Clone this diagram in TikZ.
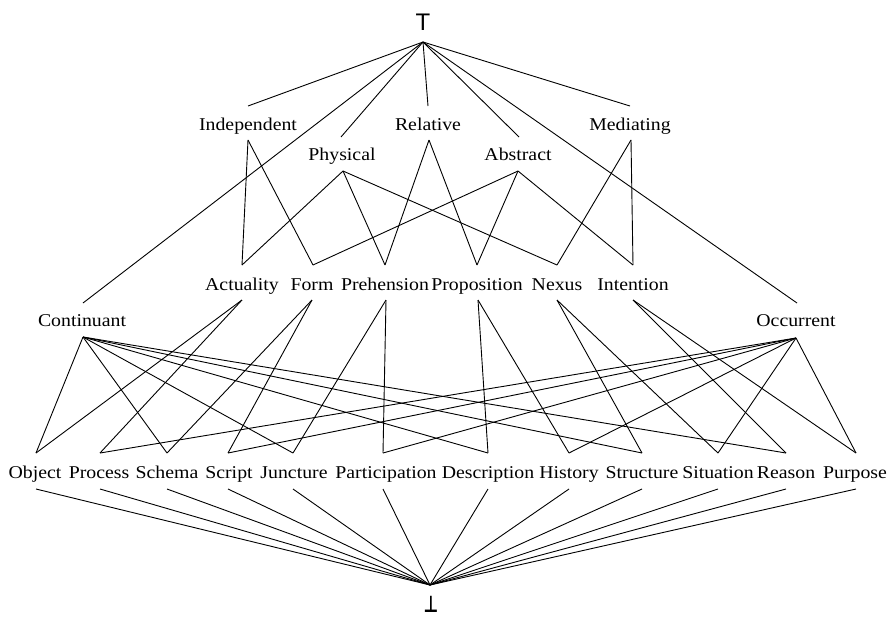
\documentclass[tikz,border=0pt]{standalone}
\usepackage{graphicx}
\usepackage{fontspec}
\setmainfont{Liberation Serif}[FakeStretch=1.1]
\newfontfamily\symfont{Liberation Sans}
\newfontfamily\djv{DejaVu Sans}
\begin{document}
\begin{tikzpicture}[x=1pt,y=-1pt,
  lbl/.style={font=\fontsize{18}{20}\selectfont, inner sep=0pt, anchor=base},
  edge/.style={line width=0.9pt, black}]
\useasboundingbox (0,0) rectangle (888,616);
% top and bottom
\node[inner sep=0pt, anchor=base, font=\symfont\fontsize{24}{26}\selectfont] (Top) at (423,30) {T};
\coordinate (Top-b) at (423,42);
\node[inner sep=0pt, anchor=base, font=\djv\bfseries\fontsize{23}{25}\selectfont] (Bot) at (431,612) {\scalebox{0.7}[1]{⊥}};
\coordinate (Bot-t) at (430,585);
% first level
\foreach \n/\x/\y/\tx/\ty/\bx/\by in {
  Independent/248/130/248/106/248/140,
  Relative/428/130/428/106/429/140,
  Mediating/630/130/630/106/631/140,
  Physical/342/160/341/137/343/171,
  Abstract/518/160/519/137/518/171,
  Continuant/82/326/83/303/83/337,
  Occurrent/796/326/797/303/796/338}{
  \node[lbl] (\n) at (\x,\y) {\n};
  \coordinate (\n-t) at (\tx,\ty);
  \coordinate (\n-b) at (\bx,\by);
}
% middle level
\foreach \n/\x/\tx/\bx in {
  Actuality/242/242/242, Form/312/313/312, Prehension/385/385/386,
  Proposition/477/477/478, Nexus/557/557/557, Intention/633/633/633}{
  \node[lbl] (\n) at (\x,290) {\n};
  \coordinate (\n-t) at (\tx,265);
  \coordinate (\n-b) at (\bx,300);
}
% bottom level
\foreach \n/\x/\tx in {
  Object/35/36, Process/99/100, Schema/167/167, Script/229/228,
  Juncture/294/293, Participation/386/383, Description/488/488,
  History/569/569, Structure/642/642, Situation/718/718,
  Reason/786/786, Purpose/855/856}{
  \node[lbl] (\n) at (\x,478) {\n};
  \coordinate (\n-t) at (\tx,453);
  \coordinate (\n-b) at (\tx,489);
}
% edges
\foreach \a in {Independent,Physical,Relative,Abstract,Mediating,Continuant,Occurrent}
  \draw[edge] (Top-b) -- (\a-t);
\foreach \a/\b in {Independent/Actuality, Independent/Form,
  Physical/Actuality, Physical/Prehension, Physical/Nexus,
  Relative/Prehension, Relative/Proposition,
  Abstract/Form, Abstract/Proposition, Abstract/Intention,
  Mediating/Nexus, Mediating/Intention,
  Actuality/Object, Actuality/Process, Form/Schema, Form/Script,
  Prehension/Juncture, Prehension/Participation,
  Proposition/Description, Proposition/History,
  Nexus/Structure, Nexus/Situation, Intention/Reason, Intention/Purpose,
  Continuant/Object, Continuant/Schema, Continuant/Juncture,
  Continuant/Description, Continuant/Structure, Continuant/Reason,
  Occurrent/Process, Occurrent/Script, Occurrent/Participation,
  Occurrent/History, Occurrent/Situation, Occurrent/Purpose}
  \draw[edge] (\a-b) -- (\b-t);
\foreach \a in {Object,Process,Schema,Script,Juncture,Participation,Description,History,Structure,Situation,Reason,Purpose}
  \draw[edge] (\a-b) -- (Bot-t);
\end{tikzpicture}
\end{document}
